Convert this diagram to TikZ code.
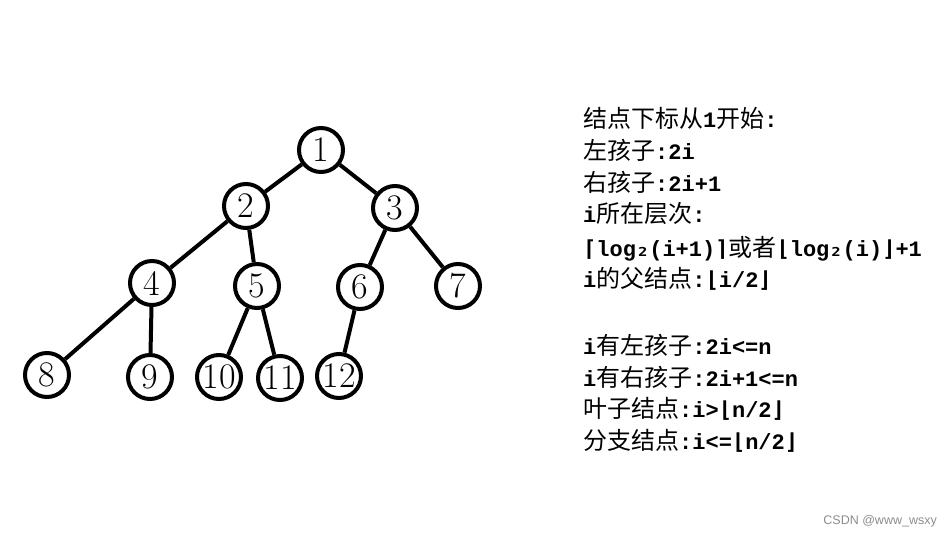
\documentclass[tikz,border=0pt]{standalone}
\usepackage{fontspec}
\newfontfamily\cjk{Noto Sans CJK SC}
\newfontfamily\mono{Liberation Mono}
\newfontfamily\symf{DejaVu Sans Mono}
\newfontfamily\wm{Liberation Sans}
\newcommand{\zh}[1]{{\cjk\fontsize{24}{24}\selectfont #1}}
\newcommand{\la}[1]{{\mono\bfseries\fontsize{22}{22}\selectfont #1}}
\newcommand{\sy}[1]{{\symf\bfseries\fontsize{22}{22}\selectfont #1}}
\tikzset{
  tn/.style={circle,draw=black,line width=4pt,minimum size=44pt,inner sep=0pt,
    font=\fontsize{36}{36}\selectfont},
  tedge/.style={line width=4pt},
  info/.style={anchor=base west,inner sep=0pt}
}
\begin{document}
\begin{tikzpicture}[x=1pt,y=-1pt]
\useasboundingbox (0,0) rectangle (951,538);
\node[tn] (n1) at (321,150) {1};
\node[tn] (n2) at (246,206) {2};
\node[tn] (n3) at (395,208) {3};
\node[tn] (n4) at (152,283) {4};
\node[tn] (n5) at (257,286) {5};
\node[tn] (n6) at (360,287) {6};
\node[tn] (n7) at (458,286) {7};
\node[tn] (n8) at (47,375) {8};
\node[tn] (n9) at (150,377) {9};
\node[tn] (n10) at (219,377) {10};
\node[tn] (n11) at (280,378) {11};
\node[tn] (n12) at (339,376) {12};
\draw[tedge] (n1) -- (n2);
\draw[tedge] (n1) -- (n3);
\draw[tedge] (n2) -- (n4);
\draw[tedge] (n2) -- (n5);
\draw[tedge] (n3) -- (n6);
\draw[tedge] (n3) -- (n7);
\draw[tedge] (n4) -- (n8);
\draw[tedge] (n4) -- (n9);
\draw[tedge] (n5) -- (n10);
\draw[tedge] (n5) -- (n11);
\draw[tedge] (n6) -- (n12);

\node[info] (t1) at (583,127) {\zh{结点下标从}\la{1}\zh{开始}\la{:}};
\node[info] (t2) at (583,159) {\zh{左孩子}\la{:2i}};
\node[info] (t3) at (583,191) {\zh{右孩子}\la{:2i+1}};
\node[info] (t4) at (583,222) {\la{i}\zh{所在层次}\la{:}};
\node[info] (t5) at (583,256) {\sy{⌈}\la{log}\sy{₂}\la{(i+1)}\sy{⌉}\zh{或者}\sy{⌊}\la{log}\sy{₂}\la{(i)}\sy{⌋}\la{+1}};
\node[info] (t6) at (583,287) {\la{i}\zh{的父结点}\la{:}\sy{⌊}\la{i/2}\sy{⌋}};
\node[info] (t7) at (583,354) {\la{i}\zh{有左孩子}\la{:2i<=n}};
\node[info] (t8) at (583,386) {\la{i}\zh{有右孩子}\la{:2i+1<=n}};
\node[info] (t9) at (583,417) {\zh{叶子结点}\la{:i>}\sy{⌊}\la{n/2}\sy{⌋}};
\node[info] (t10) at (583,449) {\zh{分支结点}\la{:i<=}\sy{⌊}\la{n/2}\sy{⌋}};
\node[anchor=east,inner sep=0pt,text=black!45,font=\wm\fontsize{12.5}{12.5}\selectfont] (wm) at (937,521) {CSDN @www\_wsxy};
\end{tikzpicture}
\end{document}
